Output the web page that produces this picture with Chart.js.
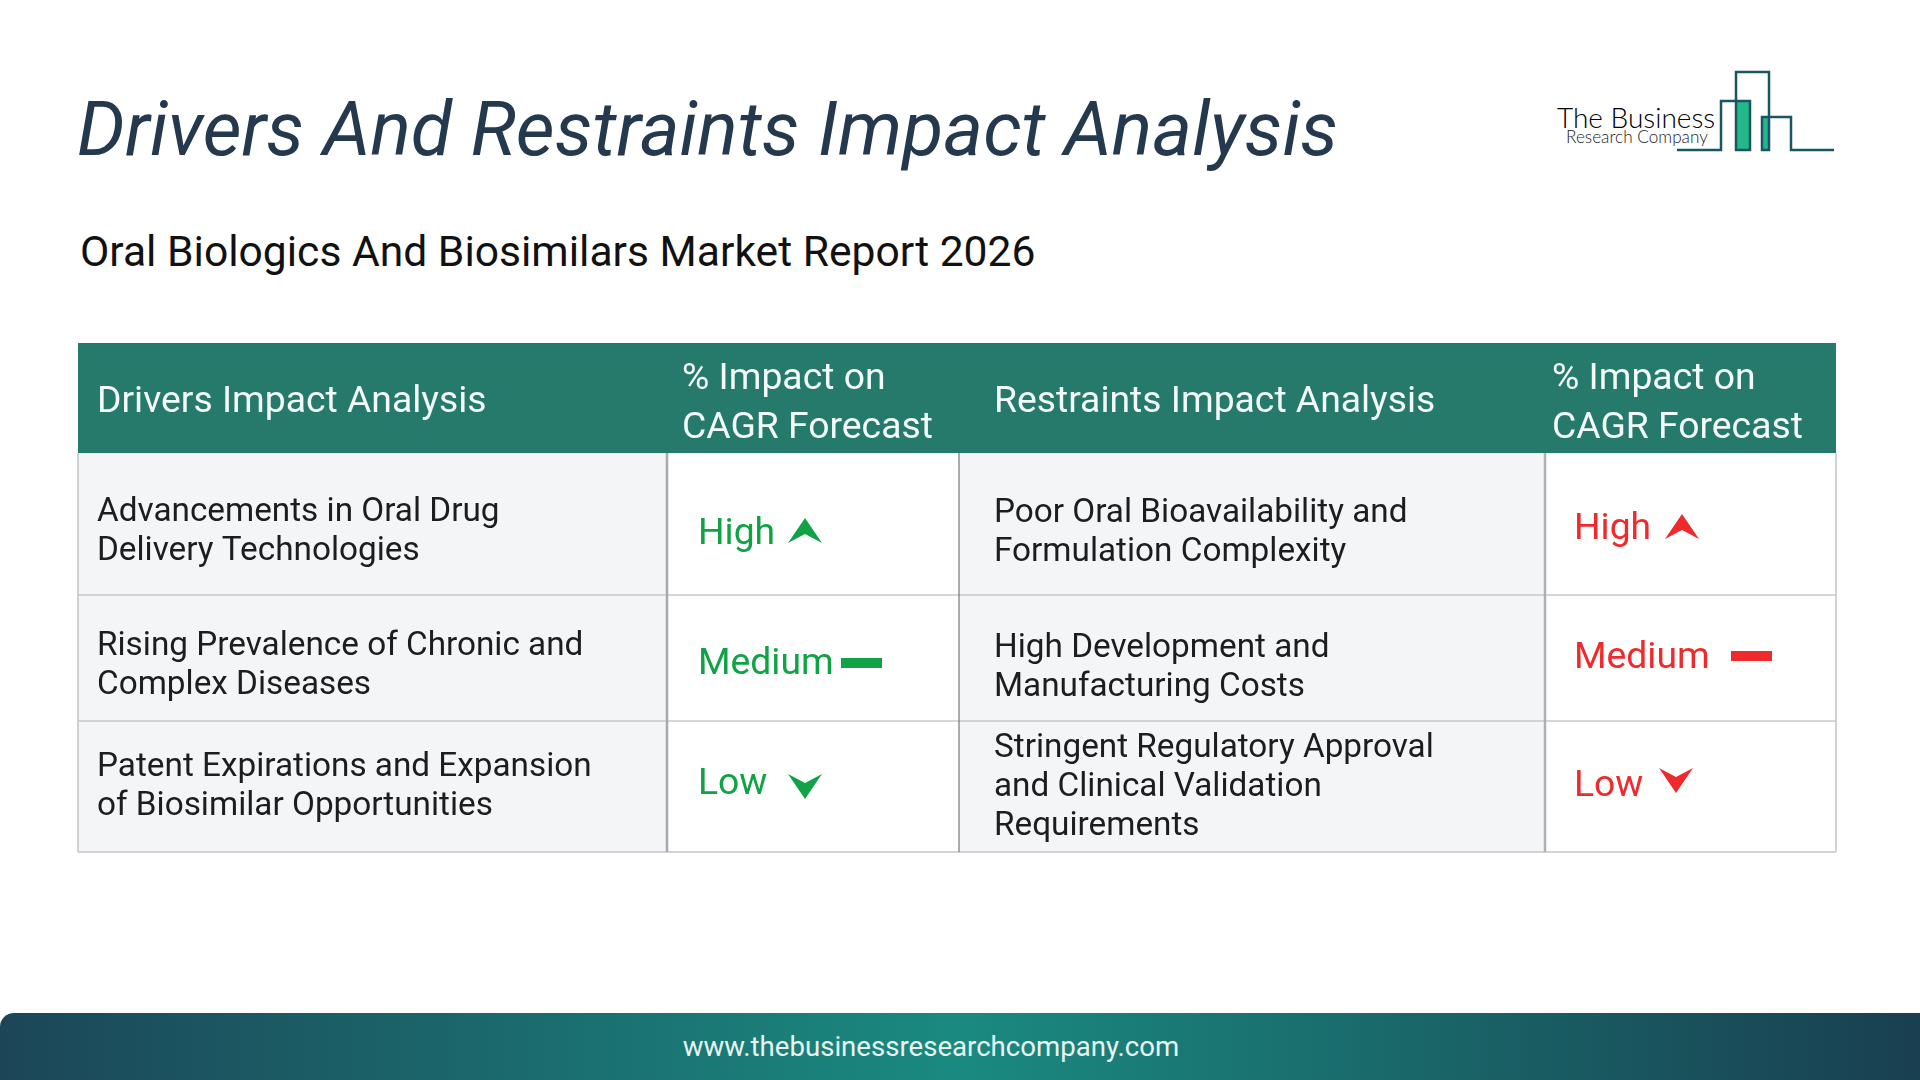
<!DOCTYPE html>
<html>
<head>
<meta charset="utf-8">
<title>Drivers And Restraints Impact Analysis</title>
<script src="https://cdn.jsdelivr.net/npm/chart.js@4"></script>
<style>
html, body { margin: 0; padding: 0; width: 1920px; height: 1080px; background: #fff; overflow: hidden; font-family: Roboto, sans-serif; }
.abs { position: absolute; white-space: nowrap; }
#title { left: 77px; top: 84px; line-height: 90px; font-size: 75.5px; font-style: italic; color: #24394e; }
#subtitle { left: 80px; top: 226px; line-height: 50px; font-size: 42.6px; color: #111; }
#footer { left: 0; top: 1013px; width: 1920px; height: 67px; border-radius: 14px 0 0 0;
  background: linear-gradient(90deg, #1c4658 0%, #1a8a80 50%, #193f50 100%); }
#footerText { left: 0; width: 1862px; top: 1013px; line-height: 67px; text-align: center; font-size: 27.6px; color: #e8f4f2; }
#logo { left: 1500px; top: 40px; }
#table { position: absolute; left: 70px; top: 335px; }
</style>
</head>
<body>
<div id="title" class="abs">Drivers And Restraints Impact Analysis</div>
<div id="subtitle" class="abs">Oral Biologics And Biosimilars Market Report 2026</div>

<svg id="logo" class="abs" width="420" height="130" viewBox="1500 40 420 130">
  <rect x="1736" y="101" width="14" height="49" fill="#22b888"/>
  <rect x="1762" y="117" width="7" height="33" fill="#22b888"/>
  <g fill="none" stroke="#1b5564" stroke-width="2.5">
    <path d="M1677 150H1721V101H1750V150H1736V72H1769V150H1762V117H1791V150H1834"/>
  </g>
  <text x="1557" y="128" font-family="Lato" font-weight="300" font-size="28" fill="#000">The Business</text>
  <text x="1566" y="143" font-family="Lato" font-weight="300" font-size="17.2" fill="#222">Research Company</text>
</svg>

<canvas id="table" width="1780" height="530"></canvas>

<div id="footer" class="abs"></div>
<div id="footerText" class="abs">www.thebusinessresearchcompany.com</div>

<script>
// table contents
const headers = [['Drivers Impact Analysis'], ['% Impact on', 'CAGR Forecast'], ['Restraints Impact Analysis'], ['% Impact on', 'CAGR Forecast']]
const driverNames = [
  ['Advancements in Oral Drug', 'Delivery Technologies'],
  ['Rising Prevalence of Chronic and', 'Complex Diseases'],
  ['Patent Expirations and Expansion', 'of Biosimilar Opportunities']
]
const driverLevels = ['High', 'Medium', 'Low']
const restraintNames = [
  ['Poor Oral Bioavailability and', 'Formulation Complexity'],
  ['High Development and', 'Manufacturing Costs'],
  ['Stringent Regulatory Approval', 'and Clinical Validation', 'Requirements']
]
const restraintLevels = ['High', 'Medium', 'Low']

// layout, in page pixels
const colEdges = [78, 667, 959, 1545, 1836]
const rowEdges = [343, 453, 595, 721, 852]
const textX = [97, 682, 994, 1552]
const levelX = [698, 1574]
const headerY = [[403], [380, 429], [403], [380, 429]]
const driverY = [513, 647, 768]
const restraintY = [514, 649, 749]
const driverLevelY = [535, 665, 785]
const restraintLevelY = [530, 659, 787]
const driverMarkX = [805, 861, 805]
const driverMarkY = [531, 663, 786]
const restraintMarkX = [1682, 1751, 1676]
const restraintMarkY = [527, 656, 780]
const lineGap = 39

const GREEN = '#10a345'
const RED = '#ee2a2d'

function arrowIcon(color, up) {
  const c = document.createElement('canvas')
  c.width = 36; c.height = 28
  const g = c.getContext('2d')
  g.fillStyle = color
  g.beginPath()
  if (up) {
    g.moveTo(18, 1); g.lineTo(35, 26); g.lineTo(18, 17); g.lineTo(1, 26)
  } else {
    g.moveTo(18, 27); g.lineTo(35, 2); g.lineTo(18, 11); g.lineTo(1, 2)
  }
  g.closePath()
  g.fill()
  return c
}

function dashIcon(color) {
  const c = document.createElement('canvas')
  c.width = 41; c.height = 10
  const g = c.getContext('2d')
  g.fillStyle = color
  g.fillRect(0, 0, 41, 10)
  return c
}

function icons(color) {
  return { High: arrowIcon(color, true), Medium: dashIcon(color), Low: arrowIcon(color, false) }
}
const greenIcons = icons(GREEN)
const redIcons = icons(RED)

// cells, borders and text go through the chart's scales
const tablePlugin = {
  id: 'tablePlugin',
  beforeDatasetsDraw(chart) {
    const ctx = chart.ctx
    const x = chart.scales.x
    const y = chart.scales.y
    const px = v => x.getPixelForValue(v)
    const py = v => y.getPixelForValue(v)

    const fillCell = (c0, c1, r0, r1, color) => {
      ctx.fillStyle = color
      ctx.fillRect(px(colEdges[c0]), py(rowEdges[r0]), px(colEdges[c1]) - px(colEdges[c0]), py(rowEdges[r1]) - py(rowEdges[r0]))
    }
    const hLine = (c0, c1, v, color, w) => {
      ctx.strokeStyle = color; ctx.lineWidth = w
      ctx.beginPath(); ctx.moveTo(px(c0), py(v)); ctx.lineTo(px(c1), py(v)); ctx.stroke()
    }
    const vLine = (v, r0, r1, color, w) => {
      ctx.strokeStyle = color; ctx.lineWidth = w
      ctx.beginPath(); ctx.moveTo(px(v), py(r0)); ctx.lineTo(px(v), py(r1)); ctx.stroke()
    }

    ctx.save()
    fillCell(0, 1, 1, 4, '#f3f5f7')
    fillCell(2, 3, 1, 4, '#f3f5f7')
    fillCell(0, 4, 0, 1, '#257a6b')

    const top = rowEdges[1], bottom = rowEdges[4]
    hLine(78, 1836, rowEdges[2], '#c6c8cc', 1.5)
    hLine(78, 1836, rowEdges[3], '#c6c8cc', 1.5)
    hLine(78, 1836, bottom, '#c2c4c8', 1.5)
    vLine(colEdges[0], top, bottom, '#c2c4c8', 1.5)
    vLine(colEdges[1], top, bottom, '#a8aaae', 2.5)
    vLine(colEdges[2], top, bottom, '#74777c', 1.2)
    vLine(colEdges[3], top, bottom, '#aeb0b4', 2.5)
    vLine(colEdges[4], top, bottom, '#c2c4c8', 1.5)

    ctx.textBaseline = 'middle'
    ctx.textAlign = 'left'

    ctx.fillStyle = '#f4faf8'
    ctx.font = '37.3px Roboto'
    headers.forEach((lines, i) => {
      lines.forEach((t, j) => ctx.fillText(t, px(textX[i]), py(headerY[i][j])))
    })

    ctx.fillStyle = '#1d1d1f'
    ctx.font = '33.3px Roboto'
    driverNames.forEach((lines, i) => {
      lines.forEach((t, j) => ctx.fillText(t, px(textX[0]), py(driverY[i] + j * lineGap)))
    })
    restraintNames.forEach((lines, i) => {
      lines.forEach((t, j) => ctx.fillText(t, px(textX[2]), py(restraintY[i] + j * lineGap)))
    })

    ctx.font = '37.3px Roboto'
    ctx.fillStyle = GREEN
    driverLevels.forEach((t, i) => ctx.fillText(t, px(levelX[0]), py(driverLevelY[i])))
    ctx.fillStyle = RED
    restraintLevels.forEach((t, i) => ctx.fillText(t, px(levelX[1]), py(restraintLevelY[i])))
    ctx.restore()
  }
}

new Chart(document.getElementById('table').getContext('2d'), {
  type: 'scatter',
  data: {
    datasets: [
      {
        label: 'Drivers',
        data: driverLevels.map((l, i) => ({ x: driverMarkX[i], y: driverMarkY[i] })),
        pointStyle: driverLevels.map(l => greenIcons[l])
      },
      {
        label: 'Restraints',
        data: restraintLevels.map((l, i) => ({ x: restraintMarkX[i], y: restraintMarkY[i] })),
        pointStyle: restraintLevels.map(l => redIcons[l])
      }
    ]
  },
  options: {
    responsive: false,
    animation: false,
    events: [],
    layout: { padding: 0, autoPadding: false },
    plugins: { legend: { display: false }, title: { display: false }, tooltip: { enabled: false } },
    scales: {
      x: { type: 'linear', display: false, min: 70, max: 1850 },
      y: { type: 'linear', display: false, reverse: true, min: 335, max: 865 }
    }
  },
  plugins: [tablePlugin]
})
</script>
</body>
</html>
